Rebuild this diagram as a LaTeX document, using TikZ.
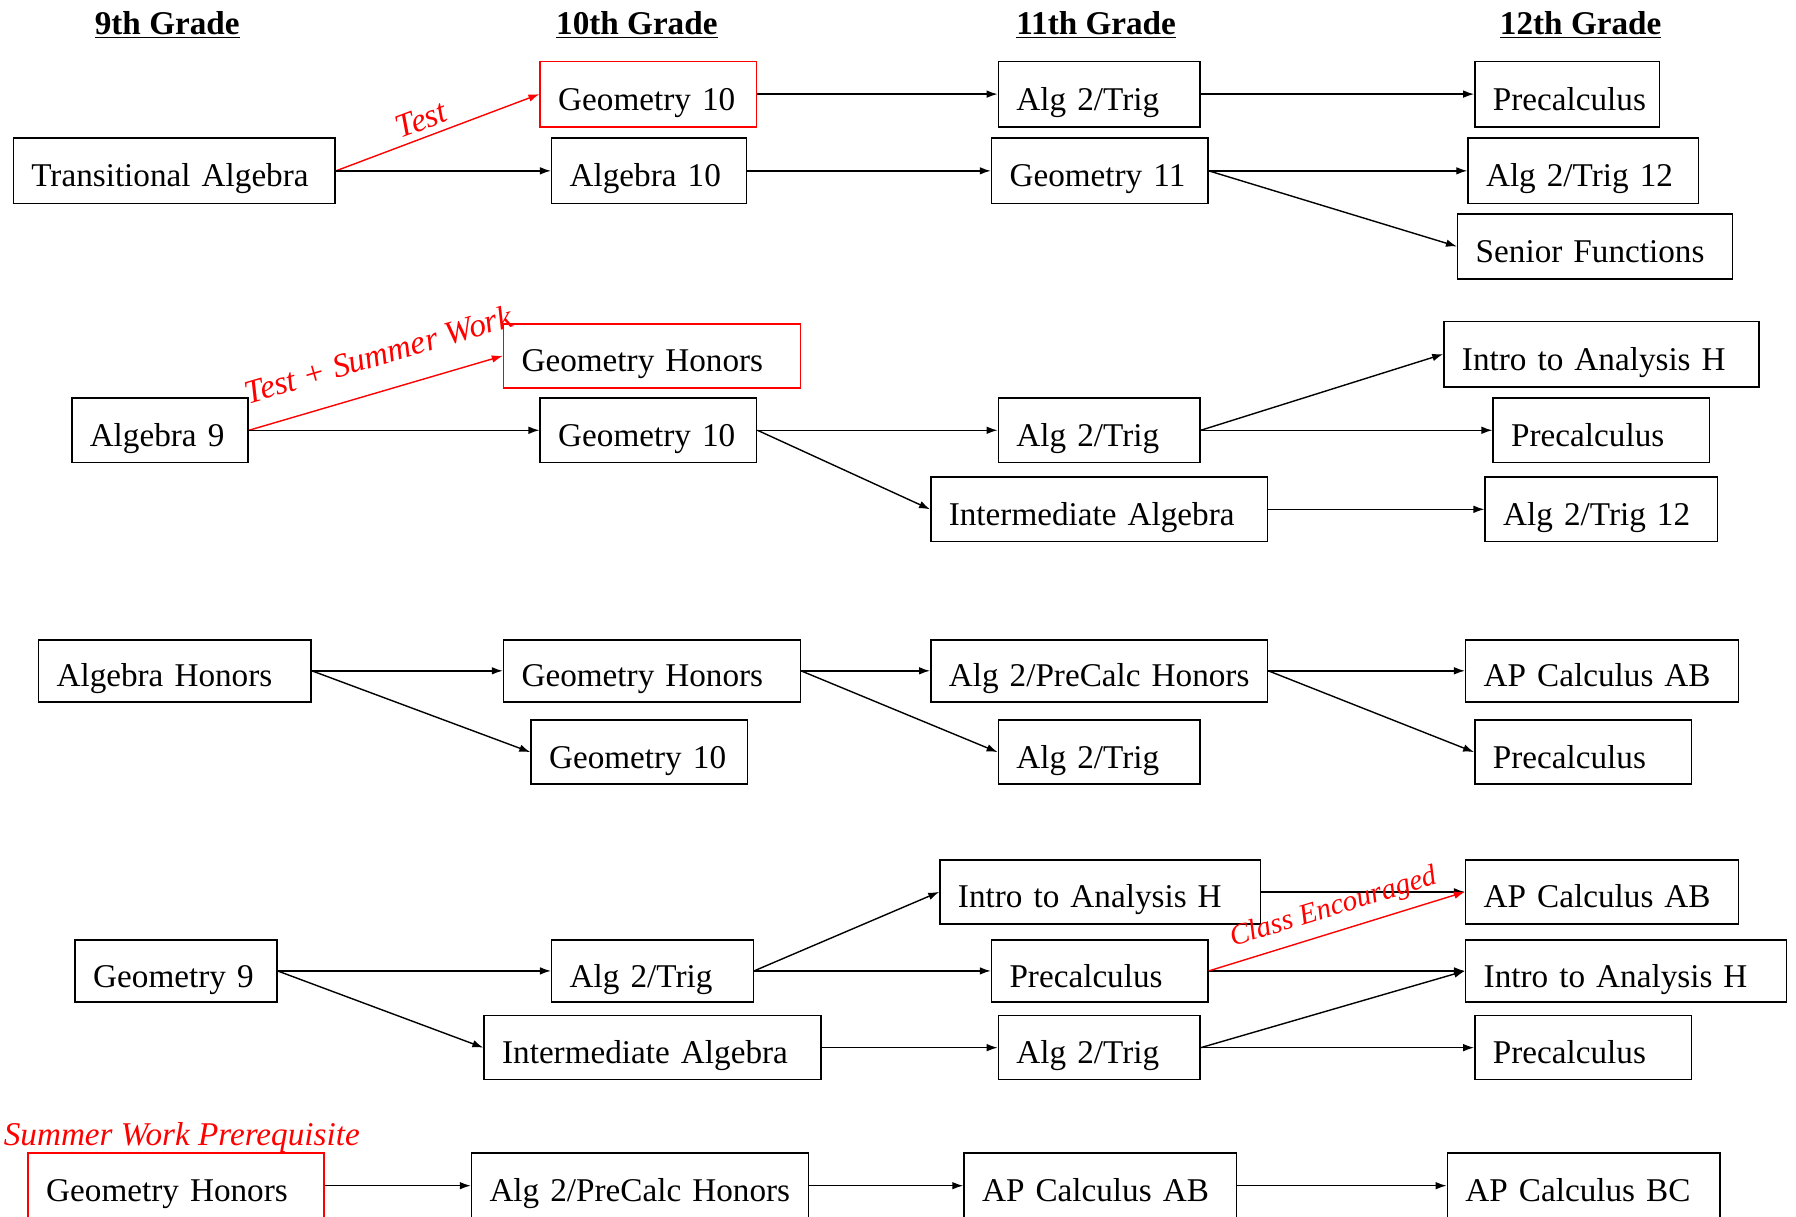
\documentclass[tikz,border=0pt]{standalone}
\usepackage{fontspec}
\setmainfont{Liberation Serif}
\usetikzlibrary{arrows.meta}
\newcommand\bodyfont{\fontsize{16.6}{19}\selectfont}
\newcommand\lblfont{\fontsize{16.6}{19}\selectfont\itshape}
\newcommand\smlblfont{\fontsize{14.6}{17}\selectfont\itshape}
\newcommand\bx[7][]{%
  \pgfmathsetmacro\myTW{(#5-#3)*0.5727-18}%
  \pgfmathsetmacro\myBH{(#6-#4)*0.5727}%
  \node[box,#1,anchor=north west,text width=\myTW pt,minimum height=\myBH pt] (#2) at (#3,#4) {\mbox{#7}};}
\tikzset{
  box/.style={draw, line width=0.75pt, rectangle, inner xsep=9pt, inner ysep=0pt,
    align=left, text height=16.1pt, text depth=0pt, font=\bodyfont},
  redbox/.style={draw=red},
  conn/.style={-{Latex[length=5.5pt,width=3.8pt]}, line width=0.7pt},
  redconn/.style={conn, color=red},
  lbl/.style={text=red, font=\lblfont, sloped, above, inner sep=3pt},
  heading/.style={font=\bodyfont\bfseries, anchor=base, inner sep=0pt},
}
\begin{document}
\begin{tikzpicture}[x=0.5727pt,y=-0.5727pt]
\path[use as bounding box, clip] (0,0) rectangle (1568,1062);
\fill[white] (0,0) rectangle (1568,1062);

% headings
\node[heading] (h9)  at (146,30)  {\underline{9th Grade}};
\node[heading] (h10) at (556,30)  {\underline{10th Grade}};
\node[heading] (h11) at (957,30)  {\underline{11th Grade}};
\node[heading] (h12) at (1380,30) {\underline{12th Grade}};

% row 1
\bx{ta}{11}{120}{292}{177}{Transitional Algebra}
\bx[redbox]{g10a}{471}{53}{660}{110}{Geometry 10}
\bx{a10}{481}{120}{651}{177}{Algebra 10}
\bx{at11a}{871}{53}{1047}{110}{Alg 2/Trig}
\bx{g11}{865}{120}{1054}{177}{Geometry 11}
\bx{pc12a}{1287}{53}{1448}{110}{Precalculus}
\bx{at12a}{1281}{120}{1482}{177}{Alg 2/Trig 12}
\bx{sf}{1272}{186}{1512}{243}{Senior Functions}

% row 2
\bx{a9}{62}{347}{216}{403}{Algebra 9}
\bx[redbox]{gh2}{439}{282}{698}{338}{Geometry Honors}
\bx{g10b}{471}{347}{660}{403}{Geometry 10}
\bx{at11b}{871}{347}{1047}{403}{Alg 2/Trig}
\bx{ia11b}{812}{416}{1106}{472}{Intermediate Algebra}
\bx{ih12b}{1260}{280}{1535}{337}{Intro to Analysis H}
\bx{pc12b}{1303}{347}{1492}{403}{Precalculus}
\bx{at12b}{1296}{416}{1499}{472}{Alg 2/Trig 12}

% row 3
\bx{ah}{33}{558}{271}{612}{Algebra Honors}
\bx{gh3}{439}{558}{698}{612}{Geometry Honors}
\bx{g10c}{463}{628}{652}{684}{Geometry 10}
\bx{aph3}{812}{558}{1106}{612}{Alg 2/PreCalc Honors}
\bx{at11c}{871}{628}{1047}{684}{Alg 2/Trig}
\bx{ab12c}{1279}{558}{1517}{612}{AP Calculus AB}
\bx{pc12c}{1287}{628}{1476}{684}{Precalculus}

% row 4
\bx{g9}{65}{820}{241}{874}{Geometry 9}
\bx{at10d}{481}{820}{657}{874}{Alg 2/Trig}
\bx{ia10d}{422}{886}{716}{942}{Intermediate Algebra}
\bx{ih11d}{820}{750}{1100}{806}{Intro to Analysis H}
\bx{pc11d}{865}{820}{1054}{874}{Precalculus}
\bx{at11d}{871}{886}{1047}{942}{Alg 2/Trig}
\bx{ab12d}{1279}{750}{1517}{806}{AP Calculus AB}
\bx{ih12d}{1279}{820}{1559}{874}{Intro to Analysis H}
\bx{pc12d}{1287}{886}{1476}{942}{Precalculus}

% row 5
\node[anchor=base west, text=red, font=\lblfont, inner sep=0pt] (swp) at (3,1000) {Summer Work Prerequisite};
\bx[redbox]{gh5}{24}{1006}{282}{1063}{Geometry Honors}
\bx{aph5}{411}{1006}{705}{1063}{Alg 2/PreCalc Honors}
\bx{ab5}{841}{1006}{1079}{1063}{AP Calculus AB}
\bx{bc5}{1263}{1006}{1501}{1063}{AP Calculus BC}

% connectors row 1
\draw[redconn] (ta.east) -- node[lbl, pos=0.45] {Test} (g10a.west);
\draw[conn] (ta.east) -- (a10.west);
\draw[conn] (g10a.east) -- (at11a.west);
\draw[conn] (a10.east) -- (g11.west);
\draw[conn] (at11a.east) -- (pc12a.west);
\draw[conn] (g11.east) -- (at12a.west);
\draw[conn] (g11.east) -- (sf.west);

% connectors row 2
\draw[redconn] (a9.east) -- node[lbl, pos=0.55, above=9pt] {Test + Summer Work} (gh2.west);
\draw[conn] (a9.east) -- (g10b.west);
\draw[conn] (g10b.east) -- (at11b.west);
\draw[conn] (g10b.east) -- (ia11b.west);
\draw[conn] (at11b.east) -- (ih12b.west);
\draw[conn] (at11b.east) -- (pc12b.west);
\draw[conn] (ia11b.east) -- (at12b.west);

% connectors row 3
\draw[conn] (ah.east) -- (gh3.west);
\draw[conn] (ah.east) -- (g10c.west);
\draw[conn] (gh3.east) -- (aph3.west);
\draw[conn] (gh3.east) -- (at11c.west);
\draw[conn] (aph3.east) -- (ab12c.west);
\draw[conn] (aph3.east) -- (pc12c.west);

% connectors row 4
\draw[conn] (g9.east) -- (at10d.west);
\draw[conn] (g9.east) -- (ia10d.west);
\draw[conn] (at10d.east) -- (ih11d.west);
\draw[conn] (at10d.east) -- (pc11d.west);
\draw[conn] (ia10d.east) -- (at11d.west);
\draw[conn] (ih11d.east) -- (ab12d.west);
\draw[conn] (pc11d.east) -- (ih12d.west);
\draw[redconn] (pc11d.east) -- node[lbl, font=\smlblfont, pos=0.515, above=1.5pt] {Class Encouraged} (ab12d.west);
\draw[conn] (at11d.east) -- (ih12d.west);
\draw[conn] (at11d.east) -- (pc12d.west);

% connectors row 5
\draw[conn] (gh5.east) -- (aph5.west);
\draw[conn] (aph5.east) -- (ab5.west);
\draw[conn] (ab5.east) -- (bc5.west);
\end{tikzpicture}
\end{document}
